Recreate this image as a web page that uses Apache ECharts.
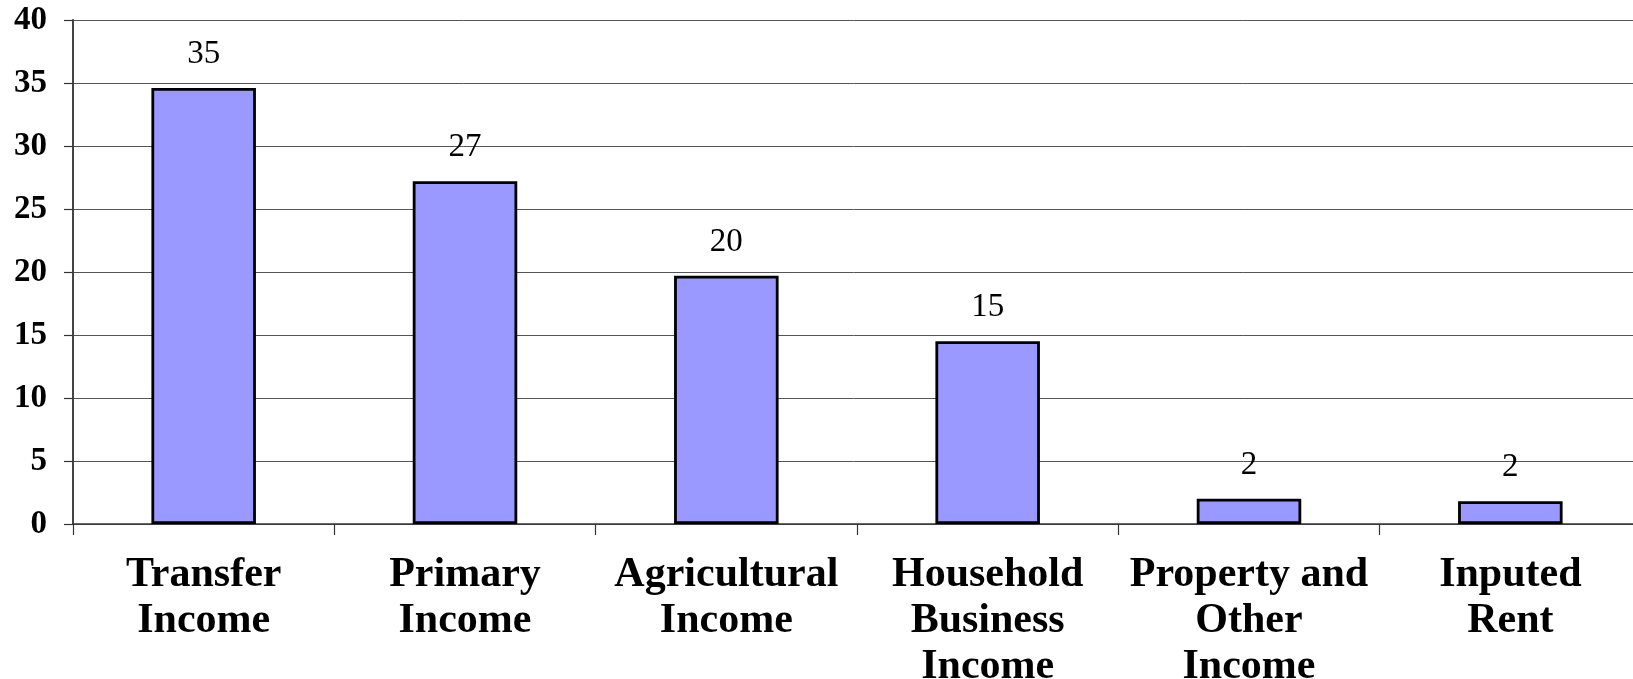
<!DOCTYPE html>
<html>
<head>
<meta charset="utf-8">
<title>Income Sources</title>
<script src="https://cdn.jsdelivr.net/npm/echarts@6/dist/echarts.min.js"></script>
<style>
  html, body { margin: 0; padding: 0; background: #fff; }
  #chart { width: 1633px; height: 679px; }
</style>
</head>
<body>
<div id="chart"></div>
<script>
// Income categories (x axis)
const categories = [
  'Transfer\nIncome',
  'Primary\nIncome',
  'Agricultural\nIncome',
  'Household\nBusiness\nIncome',
  'Property and\nOther\nIncome',
  'Inputed\nRent'
];

// Share of income by source
const shares = [34.6, 27.2, 19.7, 14.5, 2.0, 1.8];

// Value axis range
const yMin = 0;
const yMax = 40;
const yStep = 5;

const serif = '"Liberation Serif", "Times New Roman", serif';

const chart = echarts.init(document.getElementById('chart'), null, { renderer: 'canvas' });

chart.setOption({
  animation: false,
  backgroundColor: '#ffffff',
  grid: {
    left: 73,
    top: 20,
    width: 1568,
    bottom: 155,
    containLabel: false,
    outerBoundsMode: 'none'
  },
  xAxis: {
    type: 'category',
    data: categories,
    axisLine: { show: true, lineStyle: { color: '#333', width: 1.5 } },
    axisTick: { show: true, length: 11, lineStyle: { color: '#333', width: 1.2 } },
    axisLabel: {
      interval: 0,
      margin: 28,
      color: '#000',
      fontFamily: serif,
      fontWeight: 'bold',
      fontSize: 42,
      lineHeight: 46
    }
  },
  yAxis: {
    type: 'value',
    min: yMin,
    max: yMax,
    interval: yStep,
    axisLine: { show: true, lineStyle: { color: '#444', width: 2 } },
    axisTick: { show: true, length: 9, lineStyle: { color: '#333', width: 1.2 } },
    axisLabel: {
      margin: 26,
      color: '#000',
      fontFamily: serif,
      fontWeight: 'bold',
      fontSize: 33
    },
    splitLine: { show: true, lineStyle: { color: '#555', width: 1 } }
  },
  series: [{
    type: 'bar',
    data: shares,
    barWidth: '40%',
    itemStyle: {
      color: '#9999FF',
      borderColor: '#000',
      borderWidth: 2.8
    },
    label: {
      show: true,
      position: 'top',
      distance: 17,
      color: '#000',
      fontFamily: serif,
      fontSize: 33,
      formatter: p => String(Math.round(p.value))
    }
  }]
});
</script>
</body>
</html>
